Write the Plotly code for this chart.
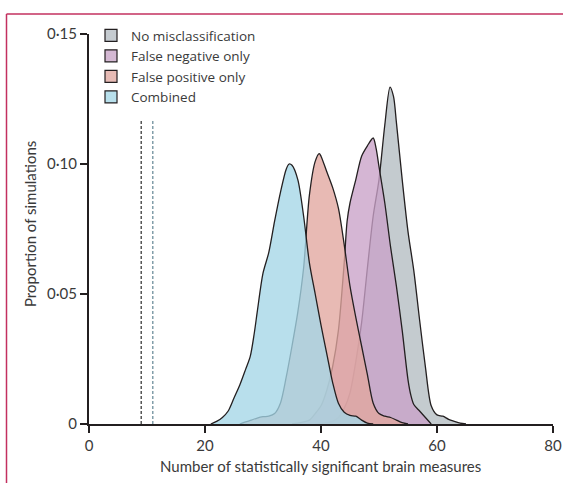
import plotly.graph_objects as go

# ---- data ----
series_names = ["No misclassification", "False negative only", "False positive only", "Combined"]

none_x = [39, 40, 41, 42, 43, 44, 45, 46, 47, 48, 49, 50, 51, 51.9, 52.5, 53, 54, 55, 56, 57, 58, 59, 60, 61, 62, 63, 64, 65]
none_y = [0, 0.0002, 0.0005, 0.001, 0.0025, 0.006, 0.012, 0.024, 0.039, 0.060, 0.080, 0.094, 0.115, 0.1296, 0.126, 0.116,
          0.094, 0.074, 0.059, 0.040, 0.022, 0.007, 0.0035, 0.003, 0.0018, 0.001, 0.0003, 0]

fneg_x = [35, 36, 37, 38, 39, 40, 41, 42, 43, 44, 44.5, 45, 46, 47, 48, 49, 49.5, 50, 51, 52, 53, 54, 55, 55.5, 56, 57, 58, 59]
fneg_y = [0, 0.0003, 0.0008, 0.0015, 0.004, 0.007, 0.013, 0.022, 0.036, 0.062, 0.078, 0.085, 0.094, 0.103, 0.107, 0.110,
          0.106, 0.099, 0.085, 0.068, 0.053, 0.036, 0.017, 0.011, 0.0075, 0.005, 0.0025, 0]

fpos_x = [26, 27, 28, 29, 30, 31, 32, 33, 34, 35, 36, 37, 38, 39, 39.7, 40, 41, 42, 43, 44, 45, 46, 47, 48, 49, 50, 51, 52, 53, 54, 55]
fpos_y = [0, 0.0008, 0.0015, 0.0023, 0.0028, 0.003, 0.004, 0.008, 0.018, 0.030, 0.043, 0.060, 0.088, 0.101, 0.104, 0.103,
          0.097, 0.091, 0.083, 0.069, 0.053, 0.041, 0.030, 0.019, 0.008, 0.004, 0.003, 0.0025, 0.0015, 0.0005, 0]

comb_x = [21, 22, 23, 24, 25, 26, 27, 27.8, 28.5, 29, 30, 31, 32, 33, 34, 34.5, 35, 36, 37, 38, 39, 40, 41, 42, 43, 44, 45, 46, 47, 48, 49]
comb_y = [0, 0.001, 0.0025, 0.005, 0.010, 0.015, 0.021, 0.026, 0.035, 0.043, 0.058, 0.066, 0.078, 0.089, 0.098, 0.100,
          0.0995, 0.094, 0.080, 0.062, 0.050, 0.038, 0.027, 0.016, 0.008, 0.0045, 0.0033, 0.003, 0.0015, 0.0003, 0]

threshold_x = [9, 11]
threshold_top = 0.1165

x_tickvals = [0, 20, 40, 60, 80]
y_tickvals = [0, 0.05, 0.10, 0.15]
y_ticktext = ["0", "0·05", "0·10", "0·15"]

# ---- styles ----
fills = ["rgba(179,188,194,0.78)", "rgba(201,162,200,0.78)", "rgba(225,166,159,0.78)", "rgba(164,214,231,0.78)"]
swatch = ["#c5cbd0", "#d4b8d3", "#e7bbb5", "#b8e0ec"]
ink = "#231f20"
font = "Lato, 'Open Sans', sans-serif"
legend_font = "'Open Sans', Lato, sans-serif"
txt = "#3a3a3a"

fig = go.Figure()

for xs, ys, fc in zip([none_x, fneg_x, fpos_x, comb_x], [none_y, fneg_y, fpos_y, comb_y], fills):
    fig.add_trace(go.Scatter(x=xs, y=ys, mode="lines", fill="tozeroy", fillcolor=fc,
                             line=dict(color=ink, width=1.3, shape="spline", smoothing=0.8),
                             showlegend=False, hoverinfo="skip"))

for tx, col in zip(threshold_x, ["#3a3a3a", "#6f8f9c"]):
    fig.add_trace(go.Scatter(x=[tx, tx], y=[0, threshold_top], mode="lines",
                             line=dict(color=col, width=1.3, dash="3px,2px"),
                             showlegend=False, hoverinfo="skip"))

for name, c in zip(series_names, swatch):
    fig.add_trace(go.Bar(x=[None], y=[None], name=name,
                         marker=dict(color=c, line=dict(color=ink, width=1.2))))

L, R, T, B = 89, 10, 34, 59
W, H = 563, 483
pw, ph = W - L - R, H - T - B

def px2paper_x(px):
    return (px - L) / pw

def py2paper_y(py):
    return (H - B - py) / ph

# frame lines (journal border)
frame_col = "#c3305f"
fig.add_shape(type="line", xref="paper", yref="paper", x0=px2paper_x(6.5), x1=px2paper_x(570),
              y0=py2paper_y(14), y1=py2paper_y(14), line=dict(color=frame_col, width=1.5))
fig.add_shape(type="line", xref="paper", yref="paper", x0=px2paper_x(6.5), x1=px2paper_x(6.5),
              y0=py2paper_y(14), y1=py2paper_y(490), line=dict(color=frame_col, width=1.5))

fig.add_annotation(text="Proportion of simulations", xref="paper", yref="paper",
                   x=px2paper_x(30), y=py2paper_y(224), textangle=-90, showarrow=False,
                   xanchor="center", yanchor="middle", font=dict(family=font, size=15, color=txt))
fig.add_annotation(text="Number of statistically significant brain measures", xref="paper", yref="paper",
                   x=px2paper_x(320), y=py2paper_y(466), showarrow=False,
                   xanchor="center", yanchor="middle", font=dict(family=font, size=15, color=txt))

fig.update_layout(
    width=W, height=H, autosize=False,
    margin=dict(l=L, r=R, t=T, b=B, autoexpand=False),
    paper_bgcolor="white", plot_bgcolor="white",
    font=dict(family=font, size=15, color=txt),
    barmode="overlay",
    legend=dict(x=px2paper_x(91), y=py2paper_y(20), xanchor="left", yanchor="top",
                bgcolor="rgba(0,0,0,0)", font=dict(family=legend_font, size=13.5, color=txt),
                tracegroupgap=0, itemclick=False),
    xaxis=dict(range=[0, 80], tickvals=x_tickvals, showgrid=False, zeroline=False,
               showline=True, linecolor=ink, linewidth=2, ticks="outside", ticklen=7,
               tickwidth=2, tickcolor=ink, tickfont=dict(size=15)),
    yaxis=dict(range=[0, 0.15], tickvals=y_tickvals, ticktext=y_ticktext, showgrid=False,
               zeroline=False, showline=True, linecolor=ink, linewidth=2, ticks="outside",
               ticklen=7, tickwidth=2, tickcolor=ink, tickfont=dict(size=15)),
)

fig.write_html("out.html",
               config={"responsive": False, "displayModeBar": False},
               post_script="document.body.style.margin='0';document.body.style.overflow='hidden';")
